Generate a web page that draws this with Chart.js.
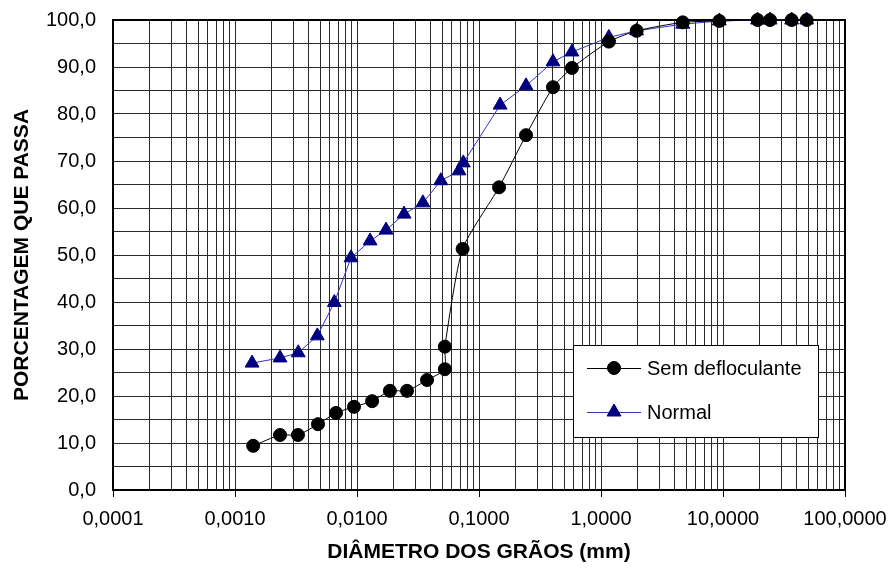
<!DOCTYPE html>
<html>
<head>
<meta charset="utf-8">
<script src="https://cdn.jsdelivr.net/npm/chart.js@4.4.0/dist/chart.umd.min.js"></script>
<style>
  html, body { margin: 0; padding: 0; background: #fff; }
</style>
</head>
<body>
<canvas id="myChart" width="890" height="568"></canvas>
<script>
// Sem defloculante
const diamSem = [0.00141, 0.00234, 0.00328, 0.00479, 0.00673, 0.00945, 0.0133, 0.0186, 0.0257, 0.0375,
                 0.0525, 0.0525, 0.0734, 0.146, 0.243, 0.404, 0.578, 1.16, 1.96, 4.68, 9.33, 19.2, 24.3, 36.5, 48.5];
const passSem = [9.4, 11.7, 11.7, 14.0, 16.4, 17.7, 18.9, 21.1, 21.1, 23.4,
                 25.7, 30.5, 51.3, 64.4, 75.5, 85.7, 89.8, 95.4, 97.7, 99.5, 99.8, 100, 100, 100, 100];

// Normal
const diamNormal = [0.00138, 0.00234, 0.0033, 0.00473, 0.00652, 0.00893, 0.0128, 0.0173, 0.0243, 0.0347,
                    0.0486, 0.0686, 0.0744, 0.149, 0.243, 0.404, 0.578, 1.16, 1.96, 4.68, 9.33, 19.2, 24.3, 36.5, 48.5];
const passNormal = [27.0, 28.1, 29.2, 32.8, 39.9, 49.4, 53.0, 55.3, 58.7, 61.1,
                    65.8, 67.9, 69.6, 81.9, 86.0, 91.1, 93.2, 96.3, 97.7, 99.1, 99.8, 100, 100, 100, 100];

// x axis decades (labelled ticks)
const xDecades = [0.0001, 0.001, 0.01, 0.1, 1, 10, 100];

const FONT = "'Liberation Sans', Arial, Helvetica, sans-serif";

// grid lines at 1..9 x 10^n
const xTicks = [];
for (let i = 0; i < xDecades.length - 1; i++) {
    for (let m = 1; m <= 9; m++) {
        xTicks.push(parseFloat((m * xDecades[i]).toPrecision(6)));
    }
}
xTicks.push(xDecades[xDecades.length - 1]);

function isDecade(v) {
    return xDecades.some(d => Math.abs(d - v) < d * 1e-6);
}

const frame = {
    id: 'frame',
    beforeDatasetsDraw(chart) {
        const {ctx, chartArea: a} = chart;
        ctx.save();
        ctx.strokeStyle = '#000';
        ctx.lineWidth = 2;
        ctx.strokeRect(a.left, a.top, a.right - a.left, a.bottom - a.top);
        ctx.restore();
    },
    afterDatasetsDraw(chart) {
        const {ctx, chartArea: a} = chart;
        const bx = a.right - 272, by = a.bottom - 145, bw = 245, bh = 92;
        ctx.save();
        ctx.fillStyle = '#fff';
        ctx.fillRect(bx, by, bw, bh);
        ctx.strokeStyle = '#000';
        ctx.lineWidth = 1;
        ctx.strokeRect(bx + 0.5, by + 0.5, bw, bh);
        chart.data.datasets.forEach((ds, i) => {
            const y = by + 23 + i * 44;
            ctx.strokeStyle = ds.borderColor;
            ctx.lineWidth = 1;
            ctx.beginPath();
            ctx.moveTo(bx + 14, y + 0.5);
            ctx.lineTo(bx + 68, y + 0.5);
            ctx.stroke();
            ctx.fillStyle = ds.pointBackgroundColor;
            ctx.strokeStyle = ds.pointBorderColor;
            Chart.helpers.drawPoint(ctx, {
                pointStyle: ds.pointStyle, radius: ds.pointRadius, rotation: 0, borderWidth: 1
            }, bx + 41, y);
            ctx.fillStyle = '#000';
            ctx.font = '20px ' + FONT;
            ctx.textBaseline = 'middle';
            ctx.fillText(ds.label, bx + 74, y + 1);
        });
        ctx.restore();
    }
};

new Chart(document.getElementById('myChart'), {
    type: 'scatter',
    data: {
        datasets: [{
            label: 'Sem defloculante',
            data: diamSem.map((x, i) => ({x: x, y: passSem[i]})),
            showLine: true,
            borderColor: '#000',
            borderWidth: 1,
            tension: 0.2,
            pointStyle: 'circle',
            pointRadius: 6.5,
            pointBackgroundColor: '#000',
            pointBorderColor: '#000',
            clip: false
        }, {
            label: 'Normal',
            data: diamNormal.map((x, i) => ({x: x, y: passNormal[i]})),
            showLine: true,
            borderColor: '#3333cc',
            borderWidth: 1,
            tension: 0,
            pointStyle: 'triangle',
            pointRadius: 8,
            pointBackgroundColor: '#000080',
            pointBorderColor: '#000080',
            clip: false
        }]
    },
    options: {
        responsive: false,
        animation: false,
        layout: {padding: {top: 20, right: 45, left: 0, bottom: 0}},
        plugins: {
            legend: {display: false},
            tooltip: {enabled: false}
        },
        scales: {
            x: {
                type: 'logarithmic',
                min: 0.0001,
                max: 100,
                afterBuildTicks: s => { s.ticks = xTicks.map(v => ({value: v})); },
                afterFit: s => { s.height = 78; s.paddingLeft = 0; s.paddingRight = 0; },
                ticks: {
                    autoSkip: false,
                    maxRotation: 0,
                    padding: 10,
                    color: '#000',
                    font: {family: FONT, size: 20},
                    callback: v => isDecade(v) ? v.toFixed(4).replace('.', ',') : ''
                },
                grid: {
                    color: '#2a2a2a',
                    lineWidth: 1,
                    tickLength: 7,
                    tickColor: c => (c.tick && isDecade(c.tick.value)) ? '#000' : 'rgba(0,0,0,0)'
                },
                border: {color: '#000', width: 2},
                title: {
                    display: true,
                    text: 'DIÂMETRO DOS GRÃOS (mm)',
                    color: '#000',
                    font: {family: FONT, size: 21, weight: 'bold'},
                    padding: {top: 0, bottom: 3}
                }
            },
            y: {
                min: 0,
                max: 100,
                afterFit: s => { s.width = 113; s.paddingTop = 0; s.paddingBottom = 0; },
                ticks: {
                    stepSize: 5,
                    autoSkip: false,
                    padding: 17,
                    color: '#000',
                    font: {family: FONT, size: 20},
                    callback: v => v % 10 === 0 ? v.toFixed(1).replace('.', ',') : ''
                },
                grid: {color: '#2a2a2a', lineWidth: 1, drawTicks: false},
                border: {color: '#000', width: 2},
                title: {
                    display: true,
                    text: 'PORCENTAGEM QUE PASSA',
                    color: '#000',
                    font: {family: FONT, size: 21, weight: 'bold'},
                    padding: {top: 10, bottom: 0}
                }
            }
        }
    },
    plugins: [frame]
});
</script>
</body>
</html>
